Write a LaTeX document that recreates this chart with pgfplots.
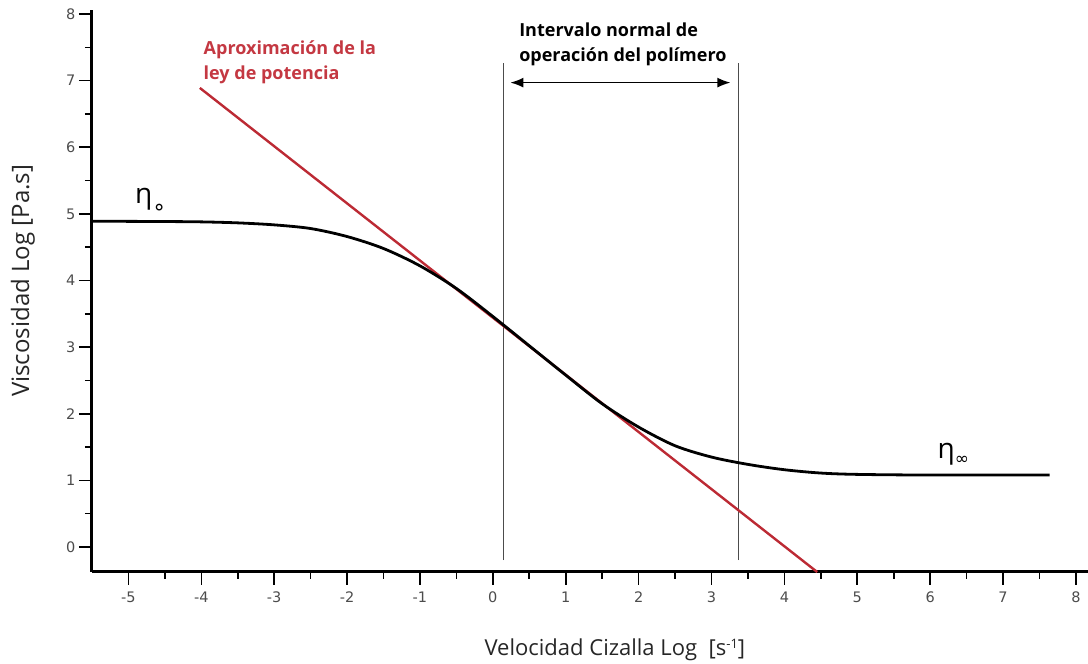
\documentclass[border=0pt]{standalone}
\usepackage{pgfplots}
\pgfplotsset{compat=1.18}
\usepackage{fontspec}
\setmainfont{Open Sans}
\newfontfamily\tickfont{DejaVu Sans}
\newfontfamily\symfont{DejaVu Sans}
\usetikzlibrary{arrows.meta}
\definecolor{redline}{RGB}{188,42,52}
\definecolor{redtext}{RGB}{196,56,66}
\begin{document}
\begin{tikzpicture}
\begin{axis}[
  name=ax,
  scale only axis,
  width=996pt, height=562pt,
  xmin=-5.5, xmax=8.166,
  ymin=-0.375, ymax=8.06,
  axis lines*=left,
  axis line style={line width=3pt, black},
  xtick={-5,...,8}, ytick={0,...,8},
  minor x tick num=1, minor y tick num=1,
  tick align=outside,
  major tick length=13pt, minor tick length=7pt,
  tick style={line width=1.6pt, black},
  /pgf/number format/assume math mode=true,
  ticklabel style={font=\tickfont\fontsize{14.5}{14.5}\selectfont, text=black!70},
  xticklabel style={yshift=-3pt},
  xlabel={Velocidad Cizalla Log\ \ [s\raisebox{0.6ex}{\fontsize{13}{13}\selectfont -1}]},
  ylabel={Viscosidad Log [Pa.s]},
  xlabel style={at={(axis description cs:0.525,-0.139)}, anchor=center, font=\fontsize{22}{22}\selectfont, text=black!85},
  ylabel style={at={(axis description cs:-0.0693,0.518)}, anchor=center, font=\fontsize{24}{24}\selectfont, text=black!85},
  clip=false,
]
% vertical interval lines
\addplot[black!70, line width=1.1pt] coordinates {(0.14,-0.195) (0.14,7.27)};
\addplot[black!70, line width=1.1pt] coordinates {(3.37,-0.195) (3.37,7.27)};
% power-law approximation
\addplot[redline, line width=2.4pt] coordinates {(-4.02,6.89) (4.45,-0.375)};
% viscosity curve
\addplot[black, line width=2.8pt, smooth, tension=0.5] coordinates {
(-5.5,4.89) (-4.5,4.885) (-4,4.88) (-3.5,4.865) (-3,4.835) (-2.5,4.78) (-2,4.66)
(-1.5,4.48) (-1,4.22) (-0.5,3.88) (0,3.46) (0.5,3.02) (1,2.58) (1.5,2.15)
(2,1.80) (2.5,1.52) (3,1.35) (3.5,1.24) (4,1.16) (4.5,1.11) (5,1.09)
(6,1.08) (7.64,1.08)};
% arrow
\draw[{Latex[length=13pt,width=10pt]}-{Latex[length=13pt,width=10pt]}, line width=1.6pt] (axis cs:0.24,6.97) -- (axis cs:3.26,6.97);
% annotations
\node[anchor=base west, inner sep=0pt, text=redtext, font=\bfseries\fontsize{18}{18}\selectfont] at (axis cs:-3.97,7.39) {Aproximación de la};
\node[anchor=base west, inner sep=0pt, text=redtext, font=\bfseries\fontsize{18}{18}\selectfont] at (axis cs:-3.97,7.01) {ley de potencia};
\node[anchor=base west, inner sep=0pt, font=\bfseries\fontsize{18}{18}\selectfont] at (axis cs:0.36,7.66) {Intervalo normal de};
\node[anchor=base west, inner sep=0pt, font=\bfseries\fontsize{18}{18}\selectfont] at (axis cs:0.36,7.28) {operación del polímero};
\node[anchor=base west, inner sep=0pt, font=\fontsize{28}{28}\selectfont] at (axis cs:-4.91,5.15) {η\raisebox{-11pt}{\symfont\fontsize{22}{22}\selectfont ∘}};
\node[anchor=base west, inner sep=0pt, font=\fontsize{28}{28}\selectfont] at (axis cs:6.10,1.33) {η\raisebox{-6pt}{\symfont\fontsize{17}{17}\selectfont ∞}};
\end{axis}
\pgfresetboundingbox
\path[use as bounding box] ([xshift=-92pt,yshift=-92pt]ax.south west) rectangle ([yshift=10pt]ax.north east);
\end{tikzpicture}
\end{document}
